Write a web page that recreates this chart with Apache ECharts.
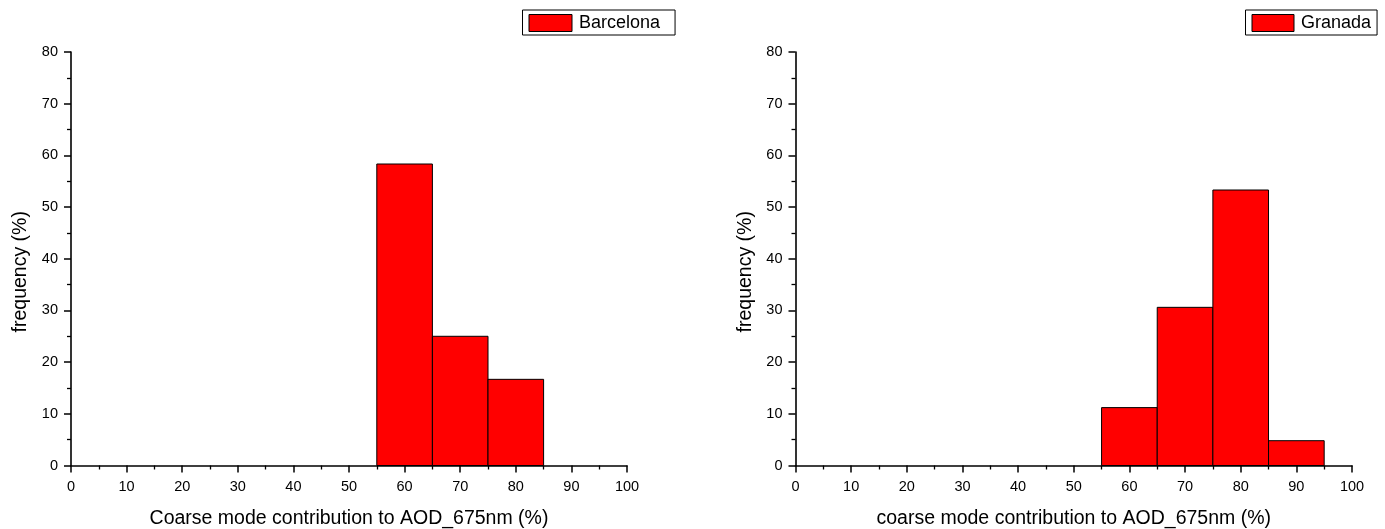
<!DOCTYPE html>
<html>
<head>
<meta charset="utf-8">
<script src="https://cdn.jsdelivr.net/npm/echarts@6/dist/echarts.min.js"></script>
<style>
html,body{margin:0;padding:0;background:#fff;}
#chart{width:1385px;height:529px;}
</style>
</head>
<body>
<div id="chart"></div>
<script>
// Bin edges (start, end) and frequencies (%)
const binStarts = [55, 65, 75, 85];
const binEnds = [65, 75, 85, 95];
const barcelonaFreq = [58.33, 25.0, 16.67];
const granadaFreq = [11.2, 30.6, 53.3, 4.8];
const xTicks = [0, 10, 20, 30, 40, 50, 60, 70, 80, 90, 100];
const yTicks = [0, 10, 20, 30, 40, 50, 60, 70, 80];
const seriesNames = ['Barcelona', 'Granada'];
const xTitles = ['Coarse mode contribution to AOD_675nm (%)', 'coarse mode contribution to AOD_675nm (%)'];
const yTitle = 'frequency (%)';

const FONT = '"Liberation Sans", Arial, sans-serif';

function toData(freq) {
  return freq.map((v, i) => [binStarts[i], binEnds[i], v]);
}

function renderItem(params, api) {
  const p0 = api.coord([api.value(0), api.value(2)]);
  const p1 = api.coord([api.value(1), 0]);
  return {
    type: 'rect',
    shape: { x: p0[0], y: p0[1], width: p1[0] - p0[0], height: p1[1] - p0[1] },
    style: { fill: '#ff0000', stroke: '#000', lineWidth: 1 }
  };
}

const axisCommon = {
  axisLine: { show: true, onZero: false, lineStyle: { color: '#000', width: 1.6 } },
  axisTick: { show: true, inside: false, length: 7, lineStyle: { color: '#000', width: 1.5 } },
  minorTick: { show: true, splitNumber: 2, length: 4, lineStyle: { color: '#000', width: 1.3 } },
  splitLine: { show: false },
  axisLabel: { color: '#000', fontFamily: FONT, fontSize: 14.5 },
  nameTextStyle: { color: '#000', fontFamily: FONT, fontSize: 19.5 }
};

function xAxis(i) {
  return Object.assign({}, axisCommon, {
    type: 'value', gridIndex: i, min: xTicks[0], max: xTicks[xTicks.length - 1], interval: 10,
    name: xTitles[i], nameLocation: 'middle', nameGap: 43,
    axisLabel: Object.assign({}, axisCommon.axisLabel, { margin: 14 })
  });
}
function yAxis(i) {
  return Object.assign({}, axisCommon, {
    type: 'value', gridIndex: i, min: yTicks[0], max: yTicks[yTicks.length - 1], interval: 10,
    name: yTitle, nameLocation: 'middle', nameGap: 40, nameRotate: 90,
    nameTextStyle: Object.assign({}, axisCommon.nameTextStyle, { padding: [0, 26, 0, 0] }),
    axisLabel: Object.assign({}, axisCommon.axisLabel, { margin: 13 })
  });
}

const legendCommon = {
  borderColor: '#000', borderWidth: 1,
  itemHeight: 17, itemGap: 6,
  textStyle: { color: '#000', fontFamily: FONT, fontSize: 18, padding: [0, 0, 0, 2] },
  itemStyle: { color: '#ff0000', borderColor: '#000', borderWidth: 1 },
  icon: 'rect'
};

const chart = echarts.init(document.getElementById('chart'));
chart.setOption({
  animation: false,
  backgroundColor: '#fff',
  grid: [
    { left: 71, width: 556, top: 52, bottom: 63.5, containLabel: false, outerBoundsMode: 'none' },
    { left: 795.5, width: 556.5, top: 52, bottom: 63.5, containLabel: false, outerBoundsMode: 'none' }
  ],
  legend: [
    Object.assign({}, legendCommon, {
      data: [seriesNames[0]], left: 522.5, top: 10,
      padding: [4, 15, 3, 6], itemWidth: 43
    }),
    Object.assign({}, legendCommon, {
      data: [seriesNames[1]], left: 1245.5, top: 10,
      padding: [4, 6, 3, 6], itemWidth: 42
    })
  ],
  xAxis: [xAxis(0), xAxis(1)],
  yAxis: [yAxis(0), yAxis(1)],
  series: [
    {
      name: seriesNames[0], type: 'custom', xAxisIndex: 0, yAxisIndex: 0,
      renderItem: renderItem, data: toData(barcelonaFreq),
      itemStyle: { color: '#ff0000', borderColor: '#000' },
      encode: { x: [0, 1], y: 2 }
    },
    {
      name: seriesNames[1], type: 'custom', xAxisIndex: 1, yAxisIndex: 1,
      renderItem: renderItem, data: toData(granadaFreq),
      itemStyle: { color: '#ff0000', borderColor: '#000' },
      encode: { x: [0, 1], y: 2 }
    }
  ]
});
</script>
</body>
</html>
